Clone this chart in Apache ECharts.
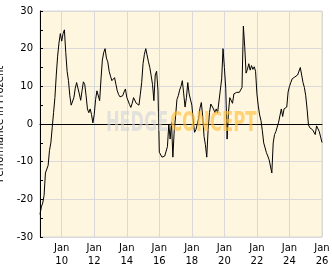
<!DOCTYPE html>
<html><head><meta charset="utf-8">
<script src="https://cdn.jsdelivr.net/npm/echarts@6/dist/echarts.min.js"></script>
<style>html,body{margin:0;padding:0;background:#fff}#c{width:332px;height:269px}</style>
</head><body><div id="c"></div>
<script>
// Monthly performance (%), Sep 2008 .. Jan 2026
const startYear = 2008, startMonth = 9;
const values = [
  -24, -22, -21, -19, -13, -13.5, -11, -7, -5, -1, 3, 7,
  13, 18, 21.5, 24, 22, 24, 25, 19, 14, 11.5, 7.5, 5,
  5.2, 7, 9.5, 11, 10.5, 8, 6.3, 8.8, 11.2, 10.5, 7.5, 4,
  3, 4, 2.5, 0.3, 2.5, 6.5, 8.8, 8.4, 6.2, 12, 17, 19,
  20, 17.5, 16.5, 14, 12.7, 11.5, 11.5, 12.3, 10.5, 8.8, 7.8, 7.2,
  7.5, 7.5, 8.5, 9.3, 7.1, 7.5, 5.2, 4.4, 5.5, 7, 7, 5.5,
  6, 5, 7.9, 11, 16, 18.5, 20, 19.5, 16.5, 15, 12.8, 10.5,
  6.2, 13, 14, 9, -7.5, -8, -8.8, -8.8, -8.5, -8, -6, 0,
  -4, 0.4, -8.8, -1.8, 2, 6.5, 7.5, 9, 10, 11.5, 8, 4.5,
  7, 11, 8, 8, 5, 1, -2.2, -1.5, 0, 1.5, 4.2, 5.7,
  2, -3.3, -5.5, -8.8, -1.5, 3, 5.3, 5.5, 4, 3, 4, 3,
  3.5, 9, 12, 20, 15, 9.5, -4, 3, 7, 6.5, 5.5, 8,
  8, 8.4, 8, 8.4, 8.6, 9.7, 26, 20.5, 13.5, 14.5, 16, 14.3,
  15.5, 14.5, 15.2, 14, 8, 4.8, 2.4, 0.9, -1.8, -5, -4.5, -7.6,
  -8.5, -9.5, -10, -13, -5, -2.8, -2, -1.5, 0.5, 1, 4, 2,
  4, 4.5, 4.5, 8.5, 10, 11, 12, 12.2, 12.5, 13, 13, 13.5,
  15, 15, 11, 9.7, 7.5, 4, -0.2, -1, -1, -1.5, -1, -2.8,
  -0.5, -0.5, -2, -3.5, -4.9
];
const yTicks = { min: -30, max: 30, step: 10 };
const yName = 'Performance in Prozent';
const watermark = ['HEDGE', 'CONCEPT'];

const categories = values.map((_, i) => {
  const t = (startMonth - 1) + i;
  const y = startYear + Math.floor(t / 12), m = (t % 12) + 1;
  return y + '-' + (m < 10 ? '0' + m : '' + m);
});
const isMajor = (idx, val) => {
  const v = categories[idx];
  return v.slice(5) === '01' && (+v.slice(0, 4)) % 2 === 0;
};
const FONT = 'DejaVu Sans';
const chart = echarts.init(document.getElementById('c'), null, { renderer: 'canvas' });
chart.setOption({
  animation: false,
  backgroundColor: '#ffffff',
  grid: { left: 40, right: 10, top: 11, bottom: 32, show: true,
          backgroundColor: '#FFF6DF', borderColor: '#D9D9D9', borderWidth: 1,
          containLabel: false, outerBoundsMode: 'none' },
  xAxis: {
    type: 'category', data: categories, boundaryGap: false,
    axisLine: { show: true, lineStyle: { color: '#000', width: 1 } },
    axisTick: { show: false },
    axisLabel: { interval: isMajor, color: '#000', fontFamily: FONT, fontSize: 10,
                 lineHeight: 13, margin: 5,
                 formatter: v => 'Jan\n' + v.slice(2, 4) },
    splitLine: { show: true, interval: isMajor, lineStyle: { color: '#D9D9D9', width: 1 } }
  },
  yAxis: {
    type: 'value', min: yTicks.min, max: yTicks.max, interval: yTicks.step,
    name: yName, nameLocation: 'middle', nameGap: 27,
    nameTextStyle: { color: '#000', fontFamily: FONT, fontSize: 10 },
    axisLine: { show: true, lineStyle: { color: '#000', width: 1 } },
    axisTick: { show: true, inside: true, length: 3, lineStyle: { color: '#000' } },
    minorTick: { show: true, splitNumber: 2, length: 3, lineStyle: { color: '#000' } },
    axisLabel: { color: '#000', fontFamily: FONT, fontSize: 10, margin: 7 },
    splitLine: { show: true, lineStyle: { color: '#D9D9D9', width: 1 } }
  },
  graphic: [
    { type: 'text', x: 106, y: 124, scaleX: 0.6, z: 100,
      style: { text: watermark[0], fill: '#D0D3D8', opacity: 0.6,
               font: 'bold 27px "DejaVu Sans"', textAlign: 'left', textVerticalAlign: 'middle' } },
    { type: 'text', x: 170, y: 124, scaleX: 0.61, z: 100,
      style: { text: watermark[1], fill: '#FFBE3C', opacity: 0.65,
               font: 'bold 27px "DejaVu Sans"', textAlign: 'left', textVerticalAlign: 'middle' } }
  ],
  series: [{
    type: 'line', data: values, showSymbol: false, symbol: 'none',
    lineStyle: { color: '#000', width: 1 }, silent: true
  }]
});
</script></body></html>
